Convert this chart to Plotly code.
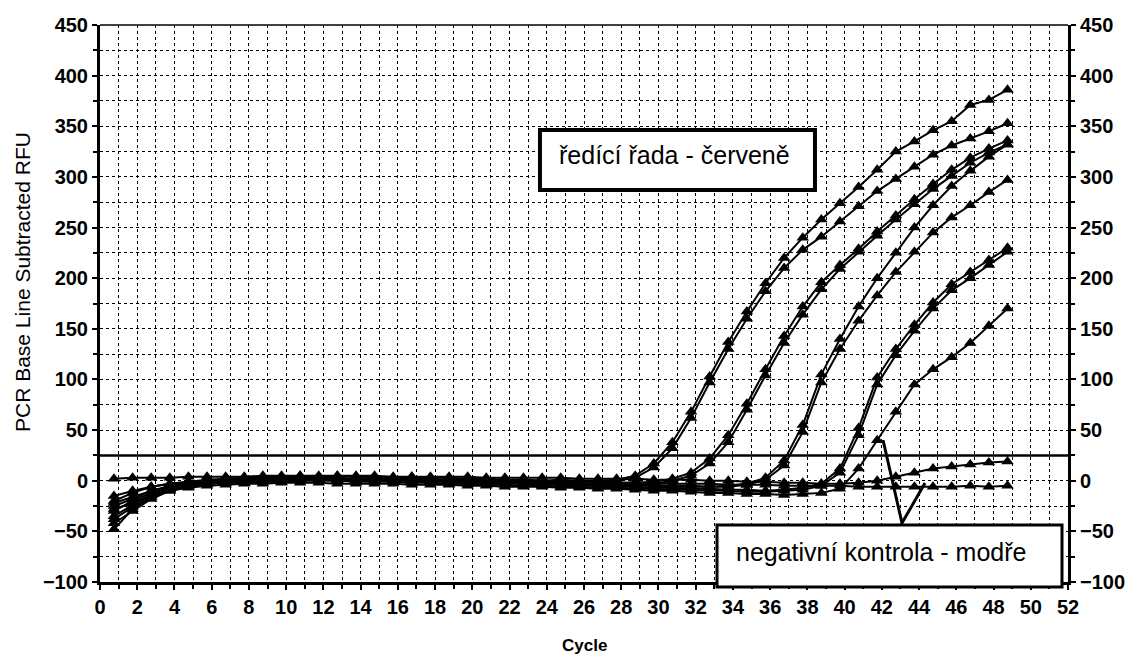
import plotly.graph_objects as go
import numpy as np

# Marker positions along the cycle axis (0.75 .. 48.75)
cycles = list(np.arange(0.75, 49.0, 1.0))

# Dilution series (ředící řada)
A1 = [-25,-18,-10,-5,-2,0,1,2,3,2,3,4,3,2,3,2,3,2,1,2,1,0,1,0,1,0,0,1,
      5,17,38,68,103,137,167,195,220,240,258,274,290,307,325,335,346,355,371,376,386]
A2 = [-35,-24,-14,-8,-4,-2,0,1,1,2,2,1,2,1,2,1,1,0,1,0,0,-1,0,-1,0,0,-1,0,
      3,13,32,62,97,130,160,187,210,228,241,256,271,286,298,310,322,331,338,345,353]
B1 = [-20,-12,-6,-3,-1,1,2,3,4,4,5,4,5,4,4,3,4,3,3,2,2,1,1,0,0,-1,-1,-2,
      -2,-1,2,8,22,45,76,110,143,172,196,213,229,246,262,278,293,307,319,328,336]
B2 = [-42,-30,-18,-10,-6,-3,-1,0,1,1,2,2,1,1,1,0,1,0,0,-1,-1,-2,-2,-3,-3,-3,-4,-4,
      -4,-3,0,5,17,38,70,104,136,164,189,209,226,242,258,273,288,301,314,324,332]
C1 = [-30,-20,-12,-7,-3,-1,1,2,3,3,3,3,2,2,2,1,1,1,0,0,-1,-1,-2,-2,-3,-3,-4,-4,
      -5,-5,-6,-6,-6,-5,-3,3,20,55,105,140,172,200,225,250,272,291,306,320,332]
C2 = [-48,-28,-16,-9,-5,-2,0,1,2,2,2,2,1,1,1,1,0,0,0,-1,-1,-1,-2,-2,-2,-3,-3,-3,
      -4,-4,-5,-5,-6,-6,-4,1,15,48,97,130,158,183,206,226,245,260,272,285,297]
D1 = [-28,-22,-14,-8,-5,-3,-2,-1,0,0,1,1,1,0,0,0,0,-1,-1,-2,-2,-3,-3,-4,-4,-5,-5,-6,
      -6,-7,-7,-8,-8,-9,-9,-10,-9,-7,-3,12,52,102,130,154,176,194,206,218,230]
D2 = [-22,-16,-10,-6,-4,-3,-2,-2,-1,-1,0,0,0,-1,-1,-1,-2,-2,-3,-3,-4,-4,-5,-5,-6,-6,-7,-7,
      -8,-8,-9,-9,-10,-10,-11,-11,-10,-9,-5,8,45,95,124,148,170,188,200,213,226]
E1 = [-38,-26,-16,-10,-7,-5,-4,-3,-3,-2,-2,-2,-3,-3,-3,-3,-4,-4,-4,-5,-5,-6,-6,-6,-7,-7,-8,-8,
      -9,-10,-10,-11,-12,-12,-13,-13,-14,-13,-12,-8,12,40,68,95,110,122,136,153,170]
# Negative controls (negativní kontrola)
N1 = [2,3,3,3,4,4,4,4,5,5,5,5,5,5,5,4,4,4,4,4,3,3,3,3,3,2,2,2,
      2,1,1,1,0,0,-1,-1,-2,-2,-3,-3,-2,0,4,8,12,14,16,18,19]
N2 = [-15,-10,-6,-3,-1,0,1,1,2,2,2,2,2,2,1,1,1,1,0,0,0,0,0,-1,-1,-1,-1,-2,
      -2,-2,-3,-3,-3,-4,-4,-4,-5,-5,-5,-5,-6,-6,-6,-6,-6,-6,-5,-6,-5]

series = [A1, A2, B1, B2, C1, C2, D1, D2, E1, N1]

x_ticks = list(range(0, 53, 2))
y_ticks = list(range(-100, 451, 50))
threshold = 25

label_dilution = "ředící řada - červeně"
label_negative = "negativní kontrola - modře"

line_style = dict(color="black", width=2)
marker_style = dict(symbol="triangle-up", size=11, color="black")

fig = go.Figure()
for s in series:
    fig.add_trace(go.Scatter(x=cycles, y=s, mode="lines+markers",
                             line=line_style, marker=marker_style, showlegend=False))
fig.add_trace(go.Scatter(x=cycles, y=N2, mode="lines+markers", yaxis="y2",
                         line=line_style, marker=marker_style, showlegend=False))

tickfont = dict(family="Liberation Sans, Arial, sans-serif", size=20, color="black", weight="bold")

fig.update_layout(
    width=1125, height=660,
    margin=dict(l=100, r=57, t=25, b=78),
    paper_bgcolor="white", plot_bgcolor="white",
    font=dict(family="Liberation Sans, Arial, sans-serif", color="black"),
    xaxis=dict(range=[0, 52], tickvals=x_ticks, tickfont=tickfont, automargin=False,
               showline=True, linecolor="black", linewidth=3, mirror=False,
               ticks="outside", ticklen=5, tickwidth=2, tickcolor="black",
               showgrid=True, gridcolor="black", gridwidth=1, griddash="dot",
               minor=dict(dtick=1, showgrid=True, gridcolor="black", gridwidth=1, griddash="dot",
                          ticks="outside", ticklen=4, tickcolor="black"),
               zeroline=False),
    yaxis=dict(range=[-100, 450], tickvals=y_ticks, tickfont=tickfont, automargin=False,
               showline=True, linecolor="black", linewidth=3,
               ticks="outside", ticklen=5, tickwidth=2, tickcolor="black",
               showgrid=True, gridcolor="black", gridwidth=1, griddash="dot",
               minor=dict(dtick=25, showgrid=True, gridcolor="black", gridwidth=1, griddash="dot",
                          ticks="outside", ticklen=4, tickcolor="black"),
               zeroline=False),
    yaxis2=dict(range=[-100, 450], tickvals=y_ticks, tickfont=tickfont, automargin=False,
                overlaying="y", side="right",
                showline=True, linecolor="black", linewidth=3,
                ticks="outside", ticklen=5, tickwidth=2, tickcolor="black",
                minor=dict(dtick=25, ticks="outside", ticklen=4, tickcolor="black"),
                showgrid=False, zeroline=False),
)

# threshold line
fig.add_shape(type="line", xref="paper", yref="y", x0=0, x1=1, y0=threshold, y1=threshold,
              line=dict(color="black", width=2.5))
# top border
fig.add_shape(type="line", xref="paper", yref="paper", x0=0, x1=1, y0=1, y1=1,
              line=dict(color="black", width=1.5))

# label boxes
fig.add_shape(type="rect", xref="paper", yref="paper", x0=0.4545, x1=0.7386, y0=0.7038, y1=0.8115,
              fillcolor="white", line=dict(color="black", width=4), layer="above")
fig.add_annotation(xref="paper", yref="paper", x=0.594, y=0.7666, text=label_dilution,
                   xanchor="center", yanchor="middle",
                   showarrow=False, font=dict(size=25, color="black"))

fig.add_shape(type="path", xref="paper", yref="paper",
              path="M 0.8089 0.2549 L 0.8285 0.1059 L 0.8523 0.1777",
              line=dict(color="black", width=3))
fig.add_shape(type="rect", xref="paper", yref="paper", x0=0.6374, x1=0.9938, y0=-0.009, y1=0.1023,
              fillcolor="white", line=dict(color="black", width=3), layer="above")
fig.add_annotation(xref="paper", yref="paper", x=0.8068, y=0.0539, text=label_negative,
                   xanchor="center", yanchor="middle",
                   showarrow=False, font=dict(size=25, color="black"))

# axis titles
fig.add_annotation(xref="paper", yref="paper", x=(584-100)/968, y=(582-645)/557, text="Cycle",
                   xanchor="center", yanchor="middle",
                   showarrow=False, font=dict(size=17, color="black", weight="bold"))
fig.add_annotation(xref="paper", yref="paper", x=(22-100)/968, y=(582-282)/557,
                   text="PCR Base Line Subtracted RFU", textangle=-90,
                   xanchor="center", yanchor="middle",
                   showarrow=False, font=dict(size=21, color="black"))

fig.write_html("out.html")
